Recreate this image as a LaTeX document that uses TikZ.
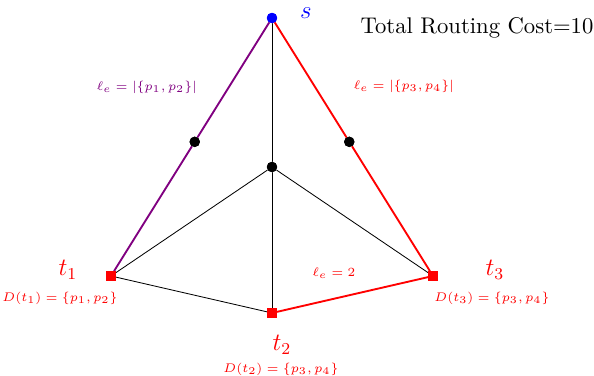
\documentclass[tikz,border=0pt]{standalone}
\usepackage{amsfonts,amsmath,amssymb}
\usepackage{tikz}
\usetikzlibrary{arrows.meta,calc}
\tikzset{
  every picture/.style={line join=round, line cap=round, >=Stealth},
  vtx/.style={circle, fill=black, inner sep=0pt, minimum size=5pt},
  term/.style={rectangle, fill=red, inner sep=0pt, minimum size=4.4pt},
  edge/.style={line width=0.4pt},
  path/.style={line width=0.9pt},
  lbl/.style={font=\fontsize{6}{7}\selectfont},
}
\begin{document}
\begin{tikzpicture}[x=0.0169cm, y=-0.0169cm]
\useasboundingbox (0,0) rectangle (594,376);
% vertices
\node[vtx, fill=blue] (s) at (272,18) {};
\node[vtx] (c) at (272,167) {};
\node[term] (t1) at (111,276) {};
\node[term] (t2) at (272,313) {};
\node[term] (t3) at (433,276) {};
\node[vtx] (m1) at ($(s)!0.48!(t1)$) {};
\node[vtx] (m3) at ($(s)!0.48!(t3)$) {};
% black edges
\draw[edge] (s) -- (c);
\draw[edge] (c) -- (t1);
\draw[edge] (c) -- (t2);
\draw[edge] (c) -- (t3);
\draw[edge] (t1) -- (t2);
% routing paths
\draw[path, violet] (s) -- (m1) -- (t1);
\draw[path, red] (s) -- (m3) -- (t3);
\draw[path, red] (t2) -- (t3);
% redraw vertices on top
\node[vtx, fill=blue] at (s) {};
\node[vtx] at (c) {};
\node[vtx] at (m1) {};
\node[vtx] at (m3) {};
\node[term] at (t1) {};
\node[term] at (t2) {};
\node[term] at (t3) {};
% labels
\node[blue, font=\large] (sl) at (306,13) {$s$};
\node[red, font=\large] (t1l) at (68,270) {$t_1$};
\node[red, font=\large] (t2l) at (282,345) {$t_2$};
\node[red, font=\large] (t3l) at (495,270) {$t_3$};
\node[red, lbl] (d1) at (60,298) {$D(t_1)=\{p_1,p_2\}$};
\node[red, lbl] (d2) at (281,369) {$D(t_2)=\{p_3,p_4\}$};
\node[red, lbl] (d3) at (492,298) {$D(t_3)=\{p_3,p_4\}$};
\node[violet, lbl] (l1) at (147,87) {$\ell_e=|\{p_1,p_2\}|$};
\node[red, lbl] (l3) at (404,86) {$\ell_e=|\{p_3,p_4\}|$};
\node[red, lbl] (l2) at (334,273) {$\ell_e=2$};
\node[font=\fontsize{10.9}{13}\selectfont] (cost) at (477,28) {Total Routing Cost=10};
\end{tikzpicture}
\end{document}
